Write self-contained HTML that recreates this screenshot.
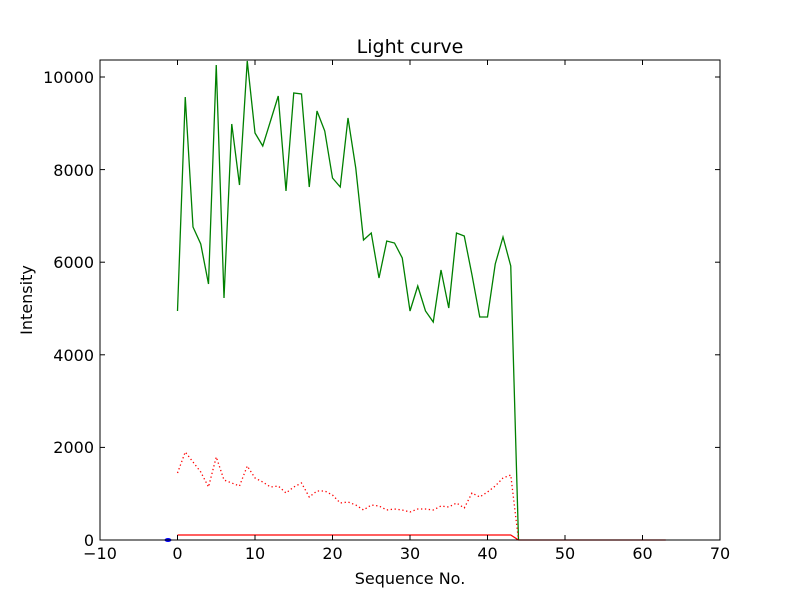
<!DOCTYPE html>
<html><head><style>body{margin:0;background:#fff}svg{display:block}text{font-family:"DejaVu Sans","Liberation Sans",sans-serif}</style></head><body>
<svg width="800" height="600" xmlns="http://www.w3.org/2000/svg">
<rect width="800" height="600" fill="#fff"/>
<g fill="none" stroke-linejoin="miter">
<polyline stroke="#008000" stroke-width="1.3" points="177.5,311 185.25,97 193,227 200.75,244 208.5,284 216.25,65 224,298 231.75,124 239.5,185 247.25,61 255,133 262.75,146 270.5,121 278.25,96 286,191 293.75,93 301.5,94 309.25,187 317,111 324.75,131 332.5,178 340.25,187 348,118 355.75,168 363.5,240 371.25,233 379,278 386.75,241 394.5,243 402.25,258 410,311 417.75,286 425.5,311 433.25,322 441,270 448.75,308 456.5,233 464.25,236 472,275 479.75,317 487.5,317 495.25,264 503,237 510.75,266 518.5,540"/>
<polyline stroke="#ff0000" stroke-width="1.3" stroke-dasharray="1.3,2.6" points="177.5,473 185.25,452 193,462 200.75,472 208.5,487 216.25,457 224,480 231.75,483 239.5,486 247.25,466 255,478 262.75,482 270.5,487 278.25,486 286,493 293.75,487 301.5,483 309.25,497 317,491 324.75,491 332.5,495 340.25,503 348,502 355.75,505 363.5,510 371.25,505 379,506 386.75,510 394.5,509 402.25,510 410,512 417.75,509 425.5,509 433.25,510 441,506 448.75,507 456.5,503 464.25,508 472,493 479.75,497 487.5,492 495.25,486 503,478 510.75,475 518.5,540"/>
<polyline stroke="#ff0000" stroke-width="1.3" points="177.5,535 510.75,535 518.5,540 665.75,540"/>
<line x1="518.5" y1="540" x2="665.75" y2="540" stroke="#000" stroke-width="1"/>
</g>
<ellipse cx="168" cy="540" rx="3.5" ry="2" fill="#0000ff"/>
<rect x="100" y="60" width="620" height="480" fill="none" stroke="#000" stroke-width="1"/>
<g stroke="#000" stroke-width="1">
<line x1="100" y1="540" x2="100" y2="535"/><line x1="177.5" y1="540" x2="177.5" y2="535"/><line x1="255" y1="540" x2="255" y2="535"/><line x1="332.5" y1="540" x2="332.5" y2="535"/><line x1="410" y1="540" x2="410" y2="535"/><line x1="487.5" y1="540" x2="487.5" y2="535"/><line x1="565" y1="540" x2="565" y2="535"/><line x1="642.5" y1="540" x2="642.5" y2="535"/>
<line x1="177.5" y1="60" x2="177.5" y2="65"/><line x1="255" y1="60" x2="255" y2="65"/><line x1="332.5" y1="60" x2="332.5" y2="65"/><line x1="410" y1="60" x2="410" y2="65"/><line x1="487.5" y1="60" x2="487.5" y2="65"/><line x1="565" y1="60" x2="565" y2="65"/><line x1="642.5" y1="60" x2="642.5" y2="65"/>
<line x1="100" y1="447.4" x2="105" y2="447.4"/><line x1="100" y1="354.8" x2="105" y2="354.8"/><line x1="100" y1="262.2" x2="105" y2="262.2"/><line x1="100" y1="169.6" x2="105" y2="169.6"/><line x1="100" y1="77" x2="105" y2="77"/>
<line x1="720" y1="447.4" x2="715" y2="447.4"/><line x1="720" y1="354.8" x2="715" y2="354.8"/><line x1="720" y1="262.2" x2="715" y2="262.2"/><line x1="720" y1="169.6" x2="715" y2="169.6"/><line x1="720" y1="77" x2="715" y2="77"/>
</g>
<g font-size="16" fill="#000" text-anchor="middle">
<text x="100" y="559">−10</text><text x="177.5" y="559">0</text><text x="255" y="559">10</text><text x="332.5" y="559">20</text><text x="410" y="559">30</text><text x="487.5" y="559">40</text><text x="565" y="559">50</text><text x="642.5" y="559">60</text><text x="720" y="559">70</text>
</g>
<g font-size="16" fill="#000" text-anchor="end">
<text x="94" y="546">0</text><text x="94" y="453">2000</text><text x="94" y="361">4000</text><text x="94" y="268">6000</text><text x="94" y="176">8000</text><text x="94" y="83">10000</text>
</g>
<text x="410" y="584" font-size="16" text-anchor="middle">Sequence No.</text>
<text x="32" y="300" font-size="16" text-anchor="middle" transform="rotate(-90 32 300)">Intensity</text>
<text x="410" y="53" font-size="19" text-anchor="middle">Light curve</text>
</svg>
</body></html>
